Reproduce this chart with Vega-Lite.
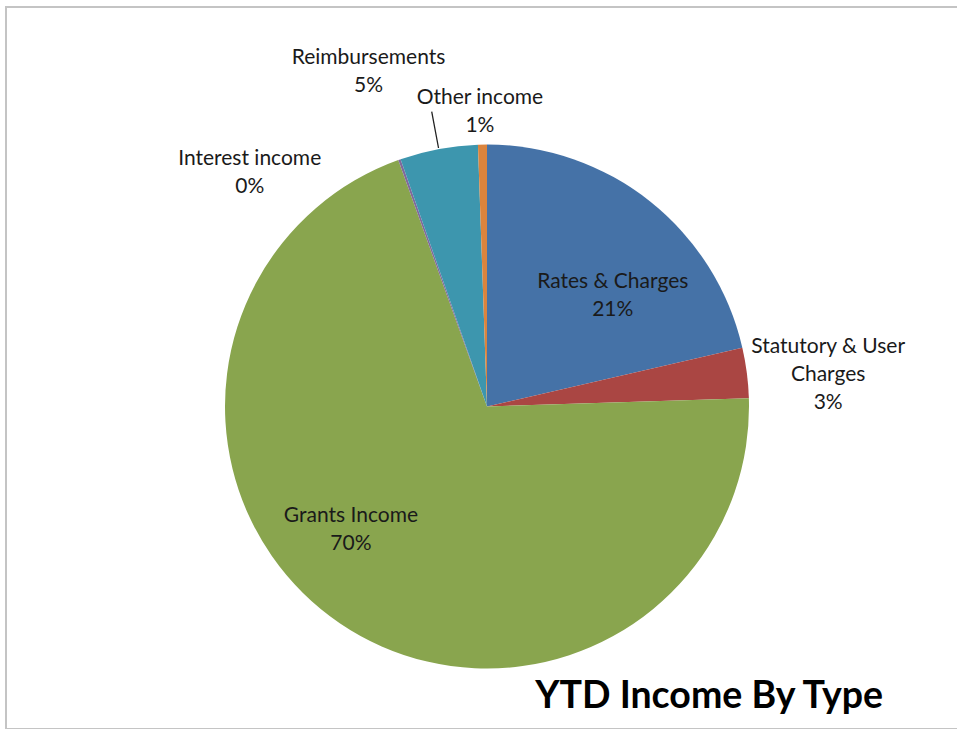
{
  "$schema": "https://vega.github.io/schema/vega-lite/v6.json",
  "width": 962,
  "height": 722,
  "autosize": {"type": "none"},
  "padding": {"left": 6, "top": 7, "right": 0, "bottom": 0},
  "background": "white",
  "config": {"view": {"stroke": null}, "font": "Lato"},
  "title": {"text": "YTD Income By Type", "orient": "bottom", "anchor": "end", "font": "Lato", "fontSize": 37.5, "fontWeight": "bold", "color": "#000000", "baseline": "alphabetic", "offset": -22, "dx": -86},
  "data": {"values": [
    {"i": 1, "cat": "Rates & Charges", "value": 21.4, "label": "Rates & Charges\n21%"},
    {"i": 2, "cat": "Statutory & User Charges", "value": 3.1, "label": "Statutory & User\nCharges\n3%"},
    {"i": 3, "cat": "Grants Income", "value": 70.0, "label": "Grants Income\n70%"},
    {"i": 4, "cat": "Interest income", "value": 0.15, "label": "Interest income\n0%"},
    {"i": 5, "cat": "Reimbursements", "value": 4.8, "label": "Reimbursements\n5%"},
    {"i": 6, "cat": "Other income", "value": 0.55, "label": "Other income\n1%"}
  ]},
  "transform": [
    {"stack": "value", "groupby": [], "sort": [{"field": "i", "order": "ascending"}], "as": ["v0", "v1"]},
    {"calculate": "(datum.v0 + datum.v1) / 2", "as": "mid"}
  ],
  "layer": [
    {
      "data": {"values": [{"frame": 1}]},
      "mark": {"type": "rect", "fill": "white", "stroke": "#c4c4c4", "strokeWidth": 2},
      "encoding": {}
    },
    {
      "mark": {"type": "arc", "radius": 262, "yOffset": 38.5},
      "encoding": {
        "theta": {"field": "v0", "type": "quantitative", "scale": {"domain": [0, 100]}},
        "theta2": {"field": "v1"},
        "color": {"field": "cat", "type": "nominal", "legend": null,
          "scale": {"domain": ["Rates & Charges", "Statutory & User Charges", "Grants Income", "Interest income", "Reimbursements", "Other income"],
                    "range": ["#4572A7", "#AA4643", "#89A54E", "#80699B", "#3D96AE", "#DB843D"]}}
      }
    },
    {
      "transform": [{"filter": "datum.cat === 'Reimbursements'"}],
      "mark": {"type": "arc", "radius": 300, "radius2": 263, "stroke": "#222222", "strokeWidth": 1.3, "fillOpacity": 0, "yOffset": 38.5},
      "encoding": {
        "theta": {"field": "mid", "type": "quantitative", "scale": {"domain": [0, 100]}},
        "theta2": {"field": "mid"}
      }
    },
    {
      "transform": [{"filter": "datum.cat === 'Rates & Charges'"}],
      "mark": {"type": "text", "radius": 165, "dx": 23, "dy": 5, "yOffset": 38.5, "align": "center", "baseline": "middle", "lineBreak": "\n", "lineHeight": 28, "fontSize": 21, "font": "Lato", "color": "#1a1a1a"},
      "encoding": {"theta": {"field": "mid", "type": "quantitative", "scale": {"domain": [0, 100]}}, "text": {"field": "label"}}
    },
    {
      "transform": [{"filter": "datum.cat === 'Statutory & User Charges'"}],
      "mark": {"type": "text", "radius": 342, "dx": 2, "dy": -16, "yOffset": 38.5, "align": "center", "baseline": "middle", "lineBreak": "\n", "lineHeight": 28, "fontSize": 21, "font": "Lato", "color": "#1a1a1a"},
      "encoding": {"theta": {"field": "mid", "type": "quantitative", "scale": {"domain": [0, 100]}}, "text": {"field": "label"}}
    },
    {
      "transform": [{"filter": "datum.cat === 'Grants Income'"}],
      "mark": {"type": "text", "radius": 178, "dx": -36, "dy": -38, "yOffset": 38.5, "align": "center", "baseline": "middle", "lineBreak": "\n", "lineHeight": 28, "fontSize": 21, "font": "Lato", "color": "#1a1a1a"},
      "encoding": {"theta": {"field": "mid", "type": "quantitative", "scale": {"domain": [0, 100]}}, "text": {"field": "label"}}
    },
    {
      "transform": [{"filter": "datum.cat === 'Interest income'"}],
      "mark": {"type": "text", "radius": 300, "dx": -137, "dy": 35, "yOffset": 38.5, "align": "center", "baseline": "middle", "lineBreak": "\n", "lineHeight": 28, "fontSize": 21, "font": "Lato", "color": "#1a1a1a"},
      "encoding": {"theta": {"field": "mid", "type": "quantitative", "scale": {"domain": [0, 100]}}, "text": {"field": "label"}}
    },
    {
      "transform": [{"filter": "datum.cat === 'Reimbursements'"}],
      "mark": {"type": "text", "radius": 350, "dx": -54, "dy": -4, "yOffset": 38.5, "align": "center", "baseline": "middle", "lineBreak": "\n", "lineHeight": 28, "fontSize": 21, "font": "Lato", "color": "#1a1a1a"},
      "encoding": {"theta": {"field": "mid", "type": "quantitative", "scale": {"domain": [0, 100]}}, "text": {"field": "label"}}
    },
    {
      "transform": [{"filter": "datum.cat === 'Other income'"}],
      "mark": {"type": "text", "radius": 295, "dx": -2, "dy": -14, "yOffset": 38.5, "align": "center", "baseline": "middle", "lineBreak": "\n", "lineHeight": 28, "fontSize": 21, "font": "Lato", "color": "#1a1a1a"},
      "encoding": {"theta": {"field": "mid", "type": "quantitative", "scale": {"domain": [0, 100]}}, "text": {"field": "label"}}
    }
  ]
}
